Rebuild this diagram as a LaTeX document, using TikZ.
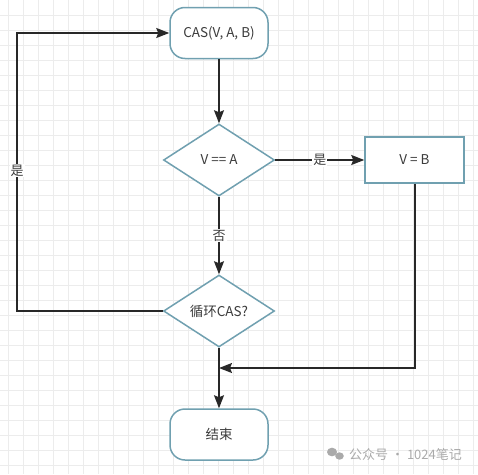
\documentclass[tikz,border=0pt]{standalone}
\usepackage{fontspec}
\setmainfont{Noto Sans CJK SC}
\usetikzlibrary{arrows.meta,shapes.geometric}
\definecolor{nodeline}{RGB}{112,160,176}
\definecolor{txt}{RGB}{60,60,60}
\definecolor{wire}{RGB}{40,40,40}
\definecolor{gridc}{RGB}{236,236,236}
\definecolor{wm}{RGB}{170,170,170}
\tikzset{
  box/.style={draw=nodeline, line width=1.5pt, fill=white, text=txt, font=\fontsize{13.5}{15}\selectfont},
  term/.style={box, rounded corners=15pt, minimum width=98pt, minimum height=51pt},
  dec/.style={box, diamond, aspect=1.54, minimum width=111pt, minimum height=72pt, inner sep=0pt},
  proc/.style={box, rectangle, minimum width=99pt, minimum height=46pt},
  wireline/.style={draw=wire, line width=1.5pt, -{Stealth[length=13pt,width=10pt,inset=2pt]}},
  lbl/.style={fill=white, text=txt, inner sep=1pt, font=\fontsize{13}{15}\selectfont}
}
\begin{document}
\begin{tikzpicture}[x=1pt,y=-1pt]
\useasboundingbox (0,0) rectangle (478,474);
\fill[white] (0,0) rectangle (478,474);
% grid
\foreach \i in {0,...,31} {
  \draw[gridc, line width=0.6pt] ({8+15*\i},0) -- ({8+15*\i},474);
}
\foreach \j in {1,...,31} {
  \draw[gridc, line width=0.6pt] (0,{15*\j}) -- (478,{15*\j});
}
% nodes
\node[term] (cas) at (219,33) {CAS(V, A, B)};
\node[dec] (d1) at (219,160) {V == A};
\node[proc] (vb) at (414.5,160) {V = B};
\node[dec] (d2) at (219,311) {循环CAS?};
\node[term] (end) at (219,434.5) {结束};
% connectors
\coordinate (tl) at (17,33);
\coordinate (bl) at (17,311);
\coordinate (br) at (415,368);
\coordinate (mj) at (219,368);
\draw[wireline] (cas) -- (d1);
\draw[wireline] (d1) -- node[lbl, pos=0.5]{是} (vb);
\draw[wireline] (d1) -- node[lbl, pos=0.5]{否} (d2);
\draw[wireline] (d2.west) -- (bl) -- node[lbl, pos=0.505]{是} (tl) -- (cas.west);
\draw[wireline] (d2.south) -- (end.north);
\draw[wireline] (vb.south -| br) -- (br) -- (mj);
% watermark
\fill[wm] (332,452) ellipse (5pt and 4.3pt);
\fill[wm] (339.5,456) ellipse (4.3pt and 3.7pt);
\node[text=wm, font=\fontsize{13}{15}\selectfont, anchor=west, inner sep=0pt] (wmt) at (349,455) {公众号 · 1024笔记};
\end{tikzpicture}
\end{document}
